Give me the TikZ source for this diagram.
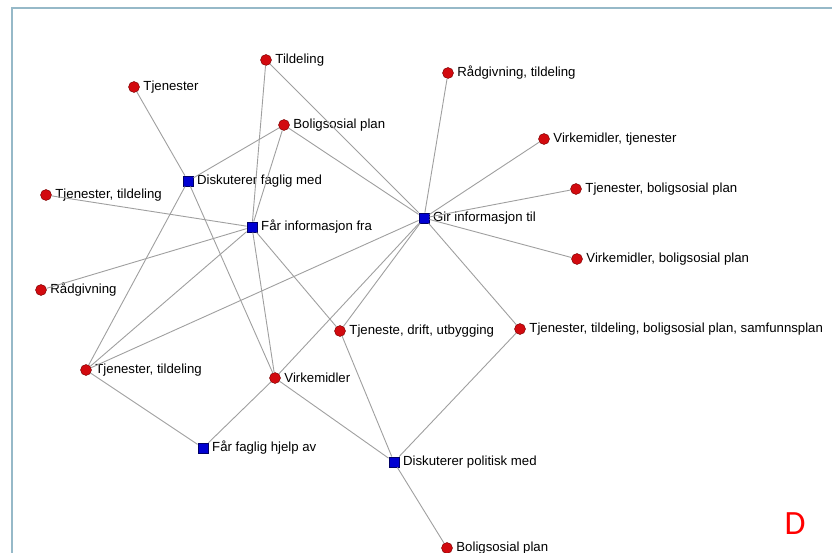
\documentclass[tikz,border=0pt]{standalone}
\usepackage{fontspec}
\setmainfont{Liberation Sans}
\newfontfamily\panelfont{Carlito}
\definecolor{framecol}{RGB}{150,185,200}
\definecolor{topicred}{RGB}{210,10,15}
\definecolor{relblue}{RGB}{0,0,210}
\begin{document}
\begin{tikzpicture}[x=1pt,y=-1pt,
                    line width=0.8pt,
                    font=\fontsize{13.2}{15}\selectfont,
                    ]
    \tikzstyle{topic}=[circle,fill=topicred,draw=red!45!black,line width=0.4pt,minimum size=11pt,inner sep=0pt,label distance=1.5pt]
    \tikzstyle{relation}=[topic,rectangle,fill=relblue,draw=blue!40!black,minimum size=10.5pt]
    \tikzstyle{link}=[draw=gray!75,line width=0.9pt]

    \useasboundingbox (0,0) rectangle (832,553);
    \draw[framecol,line width=1.2pt] (12,553) -- (12,8) -- (832,8);

    % relations
    \node[relation,label=right:Diskuterer faglig med] (dfm) at (188,181) {};
    \node[relation,label=right:Får informasjon fra] (fif) at (252,227) {};
    \node[relation,label=right:Gir informasjon til] (git) at (424,218) {};
    \node[relation,label=right:Får faglig hjelp av] (ffh) at (203,448) {};
    \node[relation,label=right:Diskuterer politisk med] (dpm) at (394,462) {};

    % topics
    \node[topic,label=right:Tildeling] (tildeling) at (266,60) {};
    \node[topic,label=right:Tjenester] (tjenester) at (134,87) {};
    \node[topic,label=right:Boligsosial plan] (bspTop) at (284,125) {};
    \node[topic,label={right:Rådgivning, tildeling}] (raadTild) at (448,73) {};
    \node[topic,label={right:Virkemidler, tjenester}] (virkTjen) at (544,139) {};
    \node[topic,label={right:Tjenester, boligsosial plan}] (tjenBsp) at (576,189) {};
    \node[topic,label={right:Virkemidler, boligsosial plan}] (virkBsp) at (577,259) {};
    \node[topic,label={right:Tjenester, tildeling}] (tjenTildA) at (46,195) {};
    \node[topic,label=right:Rådgivning] (raadgivning) at (41,290) {};
    \node[topic,label={right:Tjeneste, drift, utbygging}] (tjenDrift) at (340,331) {};
    \node[topic,label={right:Tjenester, tildeling, boligsosial plan, samfunnsplan}] (tjenSamf) at (520,329) {};
    \node[topic,label={right:Tjenester, tildeling}] (tjenTildB) at (86,370) {};
    \node[topic,label=right:Virkemidler] (virkemidler) at (275,378) {};
    \node[topic,label=right:Boligsosial plan] (bspBot) at (447,548) {};

    \path[link] (tjenester) edge (dfm)
                (bspTop) edge (dfm)
                (dfm) edge (tjenTildB)
                (dfm) edge (virkemidler)
                (tildeling) edge (fif)
                (bspTop) edge (fif)
                (tjenTildA) edge (fif)
                (raadgivning) edge (fif)
                (fif) edge (tjenTildB)
                (fif) edge (virkemidler)
                (fif) edge (tjenDrift)
                (tildeling) edge (git)
                (bspTop) edge (git)
                (git) edge (raadTild)
                (git) edge (virkTjen)
                (git) edge (tjenBsp)
                (git) edge (virkBsp)
                (git) edge (tjenSamf)
                (git) edge (tjenDrift)
                (git) edge (virkemidler)
                (git) edge (tjenTildB)
                (tjenTildB) edge (ffh)
                (virkemidler) edge (ffh)
                (virkemidler) edge (dpm)
                (tjenDrift) edge (dpm)
                (tjenSamf) edge (dpm)
                (dpm) edge (bspBot);

    \node[text=red,font=\panelfont\fontsize{34}{36}\selectfont] (panel) at (795,524) {D};
\end{tikzpicture}
\end{document}
